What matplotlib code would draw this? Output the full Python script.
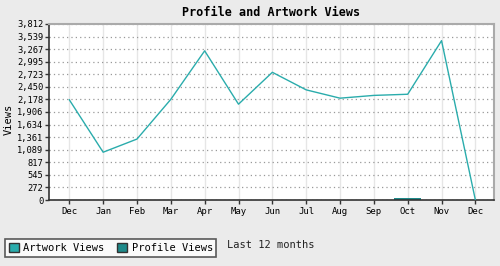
import numpy as np
import matplotlib
matplotlib.use("Agg")
import matplotlib.pyplot as plt
from matplotlib.patches import Patch

months = ["Dec", "Jan", "Feb", "Mar", "Apr", "May", "Jun",
          "Jul", "Aug", "Sep", "Oct", "Nov", "Dec"]
artwork_views = [2170, 1035, 1320, 2180, 3230, 2075, 2765,
                 2385, 2205, 2265, 2290, 3450, 0]
profile_views = [0, 0, 0, 0, 0, 0, 0, 0, 0, 0, 35, 0, 0]
yticks = [0, 272, 545, 817, 1089, 1361, 1634, 1906, 2178,
          2450, 2723, 2995, 3267, 3539, 3812]

art_color = "#2aacac"
prof_color = "#1e8a8a"
mono = "DejaVu Sans Mono"

fig = plt.figure(figsize=(5, 2.66), dpi=100, facecolor="#ebebeb")
ax = fig.add_axes([0.098, 0.248, 0.89, 0.662])
ax.set_facecolor("white")

x = np.arange(len(months))
ax.bar(x, profile_views, width=0.8, color=prof_color, zorder=2)
ax.plot(x, artwork_views, color=art_color, linewidth=1, zorder=3)

ax.set_xlim(-0.6, 12.55)
ax.set_ylim(0, 3812)
ax.set_xticks(x)
ax.set_xticklabels(months, fontsize=6.5, family=mono)
ax.set_yticks(yticks)
ax.set_yticklabels(["{:,}".format(v) for v in yticks], fontsize=6.3, family=mono)
ax.tick_params(axis="both", length=3, width=1, color="#333333")
ax.tick_params(axis="y", pad=1)
ax.tick_params(axis="x", pad=2)

ax.grid(axis="y", color="#999999", linestyle=(0, (1, 2.5)), linewidth=0.9)
ax.grid(axis="x", color="#e6e6e6", linestyle="-", linewidth=1)
ax.set_axisbelow(True)

for side in ["left", "bottom"]:
    ax.spines[side].set_color("#333333")
    ax.spines[side].set_linewidth(1.2)
for side in ["top", "right"]:
    ax.spines[side].set_color("#aaaaaa")
    ax.spines[side].set_linewidth(1.5)

ax.set_ylabel("Views", fontsize=7.5, family=mono)
ax.yaxis.set_label_coords(-0.079, 0.46)
ax.set_title("Profile and Artwork Views", fontsize=8.5, family=mono,
             fontweight="bold", pad=6)
fig.text(0.542, 0.08, "Last 12 months", fontsize=7.5, family=mono,
         ha="center", va="center", color="#222222")

handles = [Patch(facecolor=art_color, edgecolor="#333333"),
           Patch(facecolor=prof_color, edgecolor="#333333")]
leg = fig.legend(handles, ["Artwork Views", "Profile Views"],
                 loc="lower left", bbox_to_anchor=(0.01, 0.035), ncol=2,
                 prop={"family": mono, "size": 7.5}, frameon=True,
                 fancybox=False, handlelength=1.0, handleheight=1.0,
                 handletextpad=0.4, columnspacing=1.2, borderpad=0.35,
                 borderaxespad=0)
leg.get_frame().set_edgecolor("#333333")
leg.get_frame().set_linewidth(1.2)

fig.savefig("out.png", dpi=100, facecolor=fig.get_facecolor())
